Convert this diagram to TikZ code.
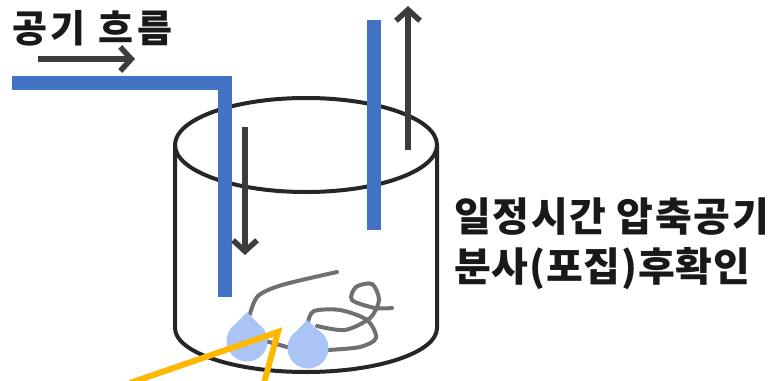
\documentclass[tikz,border=0pt]{standalone}
\usepackage{fontspec}
\newfontfamily\kor{Noto Sans CJK KR}
\usetikzlibrary{arrows.meta}
\definecolor{pipeblue}{RGB}{68,114,196}
\definecolor{dropblue}{RGB}{170,196,246}
\definecolor{arrgray}{RGB}{60,60,60}
\definecolor{fibergray}{RGB}{112,112,112}
\definecolor{markyellow}{RGB}{255,184,0}

\begin{document}
\begin{tikzpicture}[
      x=1pt, y=-1pt,
      every node/.style={inner sep=0pt, text=black!90},
      label/.style={font=\kor\bfseries, align=left},
      pipe/.style={draw=pipeblue, line width=13.5pt},
      wall/.style={draw=black!85, line width=4pt},
      arr/.style={-{Straight Barb[length=11pt, width=24pt]}, draw=arrgray, line width=5.5pt},
      fiber/.style={draw=fibergray, line width=4pt, line cap=round},
      drop/.style={fill=dropblue},
      pointer/.style={draw=markyellow, line width=6pt},
    ]
    \useasboundingbox (0,0) rectangle (776,380);

    % Labels
    \node[label, anchor=west] (flow) at (12,28)
      {\fontsize{38}{46}\selectfont\addfontfeature{LetterSpace=10}공기 흐름};
    \node[label, anchor=north west] (result) at (454,197)
      {\fontsize{40}{50}\selectfont\addfontfeature{LetterSpace=4}일정시간 압축공기\\[12pt]
       \fontsize{40}{50}\selectfont\addfontfeature{LetterSpace=2}분사(포집)후확인};

    % Container
    \draw[wall] (306,145) ellipse[x radius=131, y radius=47];
    \draw[wall] (175,145) -- (175,328)
      arc[start angle=180, end angle=0, x radius=131, y radius=44]
      -- (437,145);

    % Fibres in the bottom
    \draw[fiber] plot[smooth] coordinates {(250,314) (258,296) (282,285) (337,272)};
    \draw[fiber] plot[smooth] coordinates {(262,340) (287,347)};
    \draw[fiber] plot[smooth] coordinates {(308,322) (314,311) (340,310) (367,320) (376,338) (360,347) (328,350)};
    \draw[fiber] plot[smooth] coordinates {(317,326) (345,330) (370,318) (379,300) (372,284) (356,287) (352,300) (375,308) (392,308)};

    % Droplets
    \fill[drop] (247,341) circle[radius=20.5];
    \fill[drop] (247,312) -- (261.5,327.2) -- (232.5,327.2) -- cycle;
    \fill[drop] (308,348) circle[radius=20.5];
    \fill[drop] (307,320) -- (322,333.7) -- (294,333.7) -- cycle;

    % Pipes
    \draw[pipe] (12,83) -- (225,83) -- (225,297);
    \draw[pipe] (374,20) -- (374,230);

    % Air direction
    \coordinate (flowA) at (38,59);
    \coordinate (flowB) at (135,59);
    \coordinate (inA) at (245,127);
    \coordinate (inB) at (245,255);
    \coordinate (outA) at (408,150);
    \coordinate (outB) at (408,6);
    \draw[arr] (flowA) -- (flowB);
    \draw[arr] (inA) -- (inB);
    \draw[arr] (outA) -- (outB);

    % Pointer lines
    \coordinate (tip) at (278,332);
    \coordinate (legL) at (130,383);
    \coordinate (legR) at (264,383);
    \draw[pointer] (legL) -- (tip) -- (legR);
  \end{tikzpicture}
\end{document}
